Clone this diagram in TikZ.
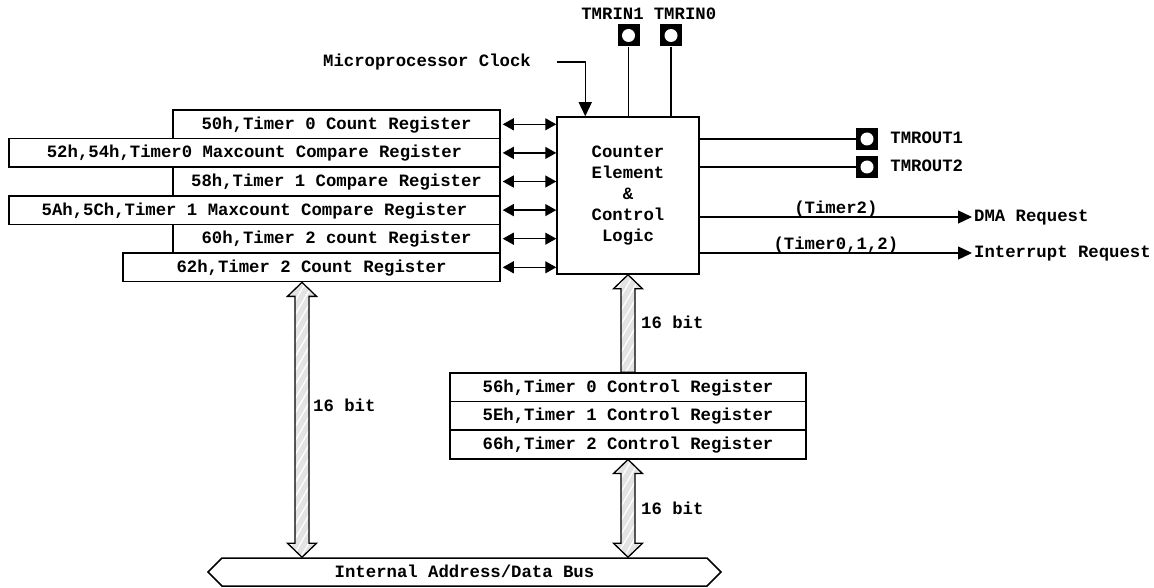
\documentclass[tikz,border=0pt]{standalone}
\usepackage{fontspec}
\setmainfont{Liberation Mono}
\usetikzlibrary{arrows.meta,calc,positioning,shapes.symbols,patterns.meta}

\tikzset{
  reg/.style={draw, line width=1.5pt, inner sep=0pt, minimum height=28.6pt, text height=10pt, text depth=0pt},
  lbl/.style={inner sep=0pt, text height=10pt, text depth=0pt},
  pad/.style={fill=black, minimum size=22pt, inner sep=0pt, path picture={\fill[white] (path picture bounding box.center) circle (6.5pt);}},
  sig/.style={line width=1.3pt},
  sigout/.style={line width=1.3pt, -{Triangle[length=14pt,width=13pt]}},
  dbl/.style={line width=1.3pt, {Triangle[length=11pt,width=12pt]}-{Triangle[length=11pt,width=12pt]}, shorten <=2pt},
  fatbus/.style={line width=1.3pt, preaction={fill=black!11}, pattern={Lines[angle=60,distance=7pt,line width=1.3pt]}, pattern color=white},
}
% hatched bus arrows, #1 top tip, #2 bottom end
\newcommand{\dblbus}[2]{%
  \draw[fatbus] (#1) -- ++(14.5,14) -- ++(-7.5,0) -- ($(#2)+(7,-14)$) -- ++(7.5,0) -- (#2)
    -- ++(-14.5,-14) -- ++(7.5,0) -- ($(#1)+(-7,14)$) -- ++(-7.5,0) -- cycle;}
\newcommand{\upbus}[2]{%
  \draw[fatbus] (#1) -- ++(14.5,14) -- ++(-7.5,0) -- ($(#2)+(7,0)$) -- ++(-14,0)
    -- ($(#1)+(-7,14)$) -- ++(-7.5,0) -- cycle;}

\begin{document}
\begin{tikzpicture}[x=1pt,y=-1pt,font=\fontsize{17.3}{21}\selectfont\bfseries]
\useasboundingbox (0,0) rectangle (1154,588);
%count and compare registers
\node[reg, minimum width=327pt] (r1) at (336.5,124.3) {50h,Timer 0 Count Register};
\node[reg, minimum width=491pt] (r2) at (254.5,152.9) {52h,54h,Timer0 Maxcount Compare Register};
\node[reg, minimum width=327pt] (r3) at (336.5,181.5) {58h,Timer 1 Compare Register};
\node[reg, minimum width=491pt] (r4) at (254.5,210.1) {5Ah,5Ch,Timer 1 Maxcount Compare Register};
\node[reg, minimum width=327pt] (r5) at (336.5,238.7) {60h,Timer 2 count Register};
\node[reg, minimum width=377pt] (r6) at (311.5,267.3) {62h,Timer 2 Count Register};
%counter element
\node[draw, line width=1.5pt, minimum width=142pt, minimum height=157pt, align=center] (ctr) at (628,195.5) {Counter\\Element\\\&\\Control\\Logic};
%control registers
\node[reg, minimum width=356pt] (c0) at (628,387.3) {56h,Timer 0 Control Register};
\node[reg, minimum width=356pt] (c1) at (628,415.9) {5Eh,Timer 1 Control Register};
\node[reg, minimum width=356pt] (c2) at (628,444.5) {66h,Timer 2 Control Register};
%bus
\node[draw, line width=1.5pt, signal, signal to=east and west, signal pointer angle=90, minimum width=513pt, minimum height=28pt, inner sep=0pt, text height=10pt, text depth=0pt] (bus) at (464.5,572) {Internal Address/Data Bus};
%pins
\node[pad] (i1) at (628.5,35.5) {};
\node[pad] (i0) at (671,35.5) {};
\node[lbl] (ti1) at (612.5,15) {TMRIN1};
\node[lbl] (ti0) at (685,15) {TMRIN0};
\node[pad] (o1) at (867,139) {};
\node[pad] (o2) at (867,167) {};
\node[lbl, right=12pt of o1] (to1) {TMROUT1};
\node[lbl, right=12pt of o2] (to2) {TMROUT2};
%outputs and clock
\node[lbl, anchor=west] (dma) at (974,217) {DMA Request};
\node[lbl, anchor=west] (irq) at (974,253) {Interrupt Request};
\node[lbl] (clk) at (427,62) {Microprocessor Clock};
%lines
\draw[sig] (i1.south) -- (i1.south |- ctr.north);
\draw[sig] (i0.south) -- (i0.south |- ctr.north);
\draw[sigout] ([xshift=26pt]clk.east) -| ([xshift=29pt]ctr.north west);
\draw[sig] (ctr.east |- o1) -- (o1.west);
\draw[sig] (ctr.east |- o2) -- (o2.west);
\draw[sigout] (ctr.east |- dma.west) -- node[lbl, above=2.5pt] (t2) {(Timer2)} ([xshift=-2pt]dma.west);
\draw[sigout] (ctr.east |- irq.west) -- node[lbl, above=2.5pt] (t012) {(Timer0,1,2)} ([xshift=-2pt]irq.west);
%register arrows
\draw[dbl] (r1.east) -- (r1.east -| ctr.west);
\draw[dbl] (r2.east) -- (r2.east -| ctr.west);
\draw[dbl] (r3.east) -- (r3.east -| ctr.west);
\draw[dbl] (r4.east) -- (r4.east -| ctr.west);
\draw[dbl] (r5.east) -- (r5.east -| ctr.west);
\draw[dbl] (r6.east) -- (r6.east -| ctr.west);
%16 bit paths
\coordinate (lt) at ([xshift=-9.5pt]r6.south);
\dblbus{lt}{lt |- bus.north}
\upbus{ctr.south}{c0.north}
\dblbus{c2.south}{c2.south |- bus.north}
\node[lbl, anchor=west] (b1) at (313,406) {16 bit};
\node[lbl, anchor=west] (b2) at (641,323) {16 bit};
\node[lbl, anchor=west] (b3) at (641,509) {16 bit};
\end{tikzpicture}
\end{document}
